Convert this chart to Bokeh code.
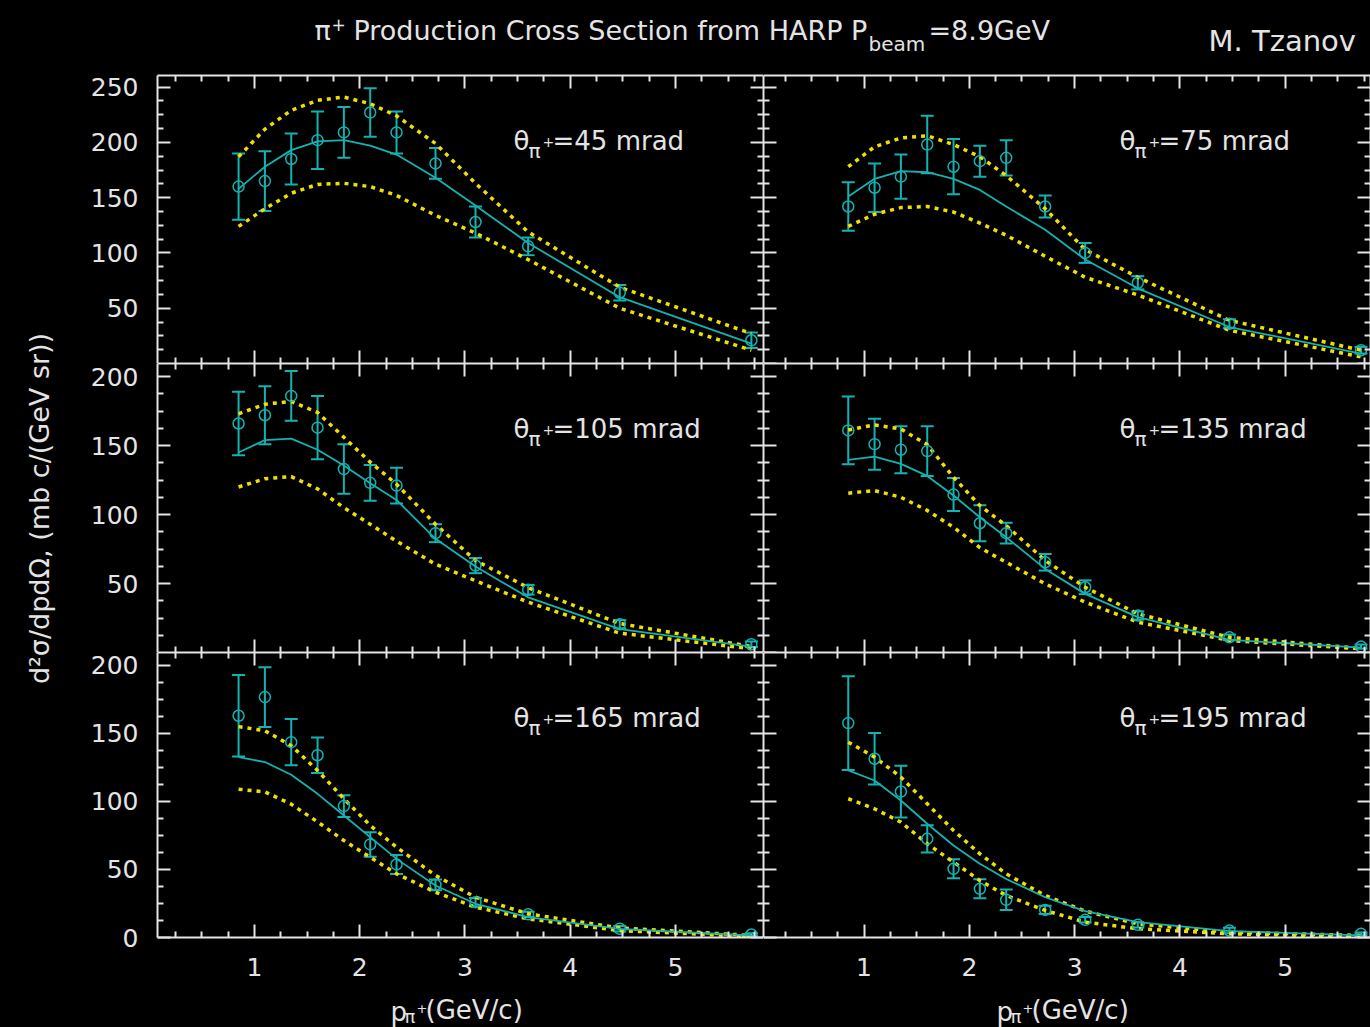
import math
from bokeh.plotting import figure
from bokeh.models import Range1d, LinearAxis, FixedTicker, Whisker, TeeHead, ColumnDataSource
from bokeh.layouts import column, row
from bokeh.core.properties import value
from bokeh.embed import file_html
from bokeh.resources import INLINE

# ---------------- data ----------------
P_GEV = [0.85, 1.10, 1.35, 1.60, 1.85, 2.10, 2.35, 2.72, 3.10, 3.60, 4.47, 5.72]
ANGLES = ["45", "75", "105", "135", "165", "195"]

DATA_45 = [160, 165, 185, 202, 209, 227, 209, 181, 128, 106, 64, 21]
ERR_45 = [30, 27, 23, 26, 23, 22, 19, 14, 14, 8, 7, 7]
MODEL_45 = [158, 178, 193, 201, 202, 197, 189, 168, 143, 109, 60, 18]
UPPER_45 = [187, 212, 229, 238, 241, 235, 224, 199, 163, 119, 69, 27]
LOWER_45 = [124, 140, 154, 162, 163, 160, 152, 134, 118, 94, 50, 12]

DATA_75 = [142, 159, 169, 198, 178, 183, 186, 142, 100, 73, 36, 12]
ERR_75 = [22, 22, 20, 26, 25, 14, 16, 10, 9, 6, 4, 3]
MODEL_75 = [151, 167, 174, 173, 167, 157, 142, 121, 94, 68, 33, 9]
UPPER_75 = [178, 196, 204, 206, 198, 187, 170, 140, 103, 78, 39, 12]
LOWER_75 = [124, 135, 141, 142, 137, 127, 116, 97, 78, 62, 30, 6]

DATA_105 = [166, 172, 186, 163, 133, 123, 121, 86.5, 63, 45.5, 20.5, 6]
ERR_105 = [23, 21, 18, 23, 18, 13, 13, 6.5, 5.5, 3.5, 3, 2]
MODEL_105 = [145, 154, 155, 147, 135.5, 122.7, 110.6, 82.4, 62.3, 40, 17, 4.3]
UPPER_105 = [173, 180, 182, 174, 156, 138, 122, 93, 66.7, 47, 21, 4.3]
LOWER_105 = [120, 126, 127.5, 118.6, 105, 93, 80.7, 64, 52, 36.5, 14, 2.7]

DATA_135 = [161, 151, 147, 146, 114.5, 93.7, 86.5, 65.4, 47.3, 26.8, 11, 4.3]
ERR_135 = [24.5, 18.5, 17, 18, 12, 13, 7.5, 6, 5, 3, 2, 1.5]
MODEL_135 = [139.6, 142, 136.7, 128, 113.8, 98, 83.6, 60.6, 42.5, 25.6, 9.2, 3.5]
UPPER_135 = [161.3, 165, 162, 150.7, 127, 106.5, 92, 66.7, 47.3, 28, 11, 3]
LOWER_135 = [115.5, 117.4, 112.5, 103, 90.8, 76, 65.4, 49.8, 36.5, 22, 8.7, 2.7]

DATA_165 = [163, 176.7, 143.6, 134, 96.6, 68.4, 53.7, 38.7, 26, 17, 6.4, 2.2]
ERR_165 = [30, 22, 17, 13, 8, 9, 7, 4, 3, 2, 2, 1]
MODEL_165 = [132.6, 129, 119.6, 105.6, 89.7, 73.8, 57.8, 38.2, 24.8, 15, 6.4, 1.5]
UPPER_165 = [155, 152, 141, 122.8, 102, 82.4, 66.4, 45.6, 29.6, 17.4, 7, 1.5]
LOWER_165 = [109, 107, 98, 85, 71.3, 59, 46.8, 33.3, 22.3, 13.7, 5.1, 0.7]

DATA_195 = [157.6, 131.4, 107.3, 72.5, 50.5, 35.8, 27.7, 20.3, 13, 9.3, 5.1, 2.7]
ERR_195 = [34.5, 19, 19, 10, 7, 7, 7.5, 3, 2, 2, 2, 1]
MODEL_195 = [122.8, 115.4, 100.7, 83.6, 67.6, 54.2, 43, 29.6, 19.4, 11.3, 4.7, 1.5]
UPPER_195 = [143.6, 132.6, 117.9, 98.3, 78.7, 61.5, 46.8, 30.9, 19.4, 10, 3.9, 1.5]
LOWER_195 = [102, 94.6, 84.8, 68.9, 55.4, 41.9, 30.9, 19.9, 11.3, 6.4, 2.7, 0.7]

SERIES = {
    "45": (DATA_45, ERR_45, MODEL_45, UPPER_45, LOWER_45),
    "75": (DATA_75, ERR_75, MODEL_75, UPPER_75, LOWER_75),
    "105": (DATA_105, ERR_105, MODEL_105, UPPER_105, LOWER_105),
    "135": (DATA_135, ERR_135, MODEL_135, UPPER_135, LOWER_135),
    "165": (DATA_165, ERR_165, MODEL_165, UPPER_165, LOWER_165),
    "195": (DATA_195, ERR_195, MODEL_195, UPPER_195, LOWER_195),
}

# tick labels
X_TICKS = [1, 2, 3, 4, 5]
Y_TICKS = [[50, 100, 150, 200, 250], [50, 100, 150, 200], [0, 50, 100, 150, 200]]

TITLE_MAIN = "Production Cross Section from HARP P"
YLABEL = "d²σ/dpdΩ, (mb c/(GeV sr))"
AUTHOR = "M. Tzanov"

# ---------------- style / layout ----------------
FONT = "DejaVu Sans"
WHITE = "#e4e4e4"
CYAN = "#14b2b2"
YELLOW = "#f0e000"
BG = "#000000"

TITLE_H = 56
TOP_B = 19           # title strip + top border = 75 px above the top frames
YSTRIP_W = 60
LEFT_B = 97          # room for the y tick labels (frame starts at page x = 157)
FW = 606
FH = [288, 289, 285]
YMAX = [260.5, 209.5, 209.5]
XR = [(0.08, 5.835), (0.045, 5.81)]
BOT_B = 50

X_MAJ_ALL = [0, 1, 2, 3, 4, 5, 6]
X_MIN_ALL = [i * 0.25 for i in range(0, 25) if i % 4]
Y_MAJ_ALL = [i * 50 for i in range(0, 6)]
Y_MIN_ALL = [i * 12.5 for i in range(0, 22) if i % 4]


def style(p):
    p.background_fill_color = BG
    p.border_fill_color = BG
    p.outline_line_color = None
    p.xgrid.visible = False
    p.ygrid.visible = False


def base_axis(ticker):
    ax = LinearAxis(ticker=ticker)
    for nm in ("axis_line", "major_tick_line", "minor_tick_line"):
        setattr(ax, nm + "_color", WHITE)
        setattr(ax, nm + "_width", 2)
    ax.major_tick_in = 13
    ax.major_tick_out = 0
    ax.minor_tick_in = 6
    ax.minor_tick_out = 0
    ax.major_label_standoff = 0
    return ax


def add_side(p, side, majors, minors, labels=None, standoff=0):
    if labels is not None:
        ax = base_axis(FixedTicker(ticks=labels, minor_ticks=minors))
        ax.major_label_text_font = FONT
        ax.major_label_text_font_size = "25px"
        ax.major_label_text_color = WHITE
        ax.major_label_standoff = standoff
        p.add_layout(ax, side)
    else:
        a1 = base_axis(FixedTicker(ticks=[], minor_ticks=majors))
        a1.minor_tick_in = 13
        a2 = base_axis(FixedTicker(ticks=[], minor_ticks=minors))
        a2.axis_line_color = None
        p.add_layout(a1, side)
        p.add_layout(a2, side)


def put_text(p, x, y, s, size, angle=0.0, align="left"):
    p.text(x=[x], y=[y], text=[s], text_font=value(FONT), text_font_size=value(f"{size}px"),
           text_color=WHITE, text_align=align, text_baseline="middle", angle=angle)


def blank_fig(w, h, xr, yr):
    f = figure(width=w, height=h, x_range=xr, y_range=yr, output_backend="svg",
               toolbar_location=None, x_axis_location=None, y_axis_location=None, min_border=0)
    style(f)
    return f


# ---------------- title strip (page coordinates) ----------------
tfig = blank_fig(1370, TITLE_H, Range1d(0, 1370), Range1d(TITLE_H, 0))
put_text(tfig, 314, 30, "π", 27)
put_text(tfig, 331, 24, "+", 17)
put_text(tfig, 353, 30, TITLE_MAIN, 27)
put_text(tfig, 868, 43, "beam", 20)
put_text(tfig, 928, 30, "=8.9GeV", 27)
put_text(tfig, 1208, 40, AUTHOR, 29)

# ---------------- y label strip ----------------
YS_H = TOP_B + sum(FH) + BOT_B
yfig = blank_fig(YSTRIP_W, YS_H, Range1d(0, YSTRIP_W), Range1d(TITLE_H + YS_H, TITLE_H))
put_text(yfig, 39, 508, YLABEL, 27, angle=math.pi / 2, align="center")

# ---------------- panels ----------------
rows = []
for r in range(3):
    figs = []
    for c in range(2):
        ang = ANGLES[2 * r + c]
        data, err, model, upper, lower = SERIES[ang]
        w = LEFT_B + FW if c == 0 else FW + 1
        h = FH[r] + (BOT_B if r == 2 else 0) + (TOP_B if r == 0 else 0)
        xr = Range1d(*XR[c])
        yr = Range1d(0, YMAX[r])
        p = figure(width=w, height=h, x_range=xr, y_range=yr, output_backend="svg",
                   toolbar_location=None, x_axis_location=None, y_axis_location=None,
                   min_border=0)
        p.min_border_left = LEFT_B if c == 0 else 0
        p.min_border_right = 0
        p.min_border_top = TOP_B if r == 0 else 0
        p.min_border_bottom = BOT_B if r == 2 else 0
        style(p)

        # axes on all four sides, ticks pointing inward
        add_side(p, "below", X_MAJ_ALL, X_MIN_ALL, X_TICKS if r == 2 else None, 20)
        add_side(p, "above", X_MAJ_ALL, X_MIN_ALL)
        add_side(p, "left", Y_MAJ_ALL, Y_MIN_ALL, Y_TICKS[r] if c == 0 else None, 19)
        add_side(p, "right", Y_MAJ_ALL, Y_MIN_ALL)

        # curves
        p.line(P_GEV, upper, line_color=YELLOW, line_width=3.5, line_dash="4 5")
        p.line(P_GEV, lower, line_color=YELLOW, line_width=3.5, line_dash="4 5")
        p.line(P_GEV, model, line_color=CYAN, line_width=1.8)

        src = ColumnDataSource(dict(x=P_GEV, y=data,
                                    lo=[d - e for d, e in zip(data, err)],
                                    hi=[d + e for d, e in zip(data, err)]))
        wh = Whisker(source=src, base="x", lower="lo", upper="hi", line_color=CYAN, line_width=2,
                     upper_head=TeeHead(size=13, line_color=CYAN, line_width=2),
                     lower_head=TeeHead(size=13, line_color=CYAN, line_width=2))
        p.add_layout(wh)
        p.scatter("x", "y", source=src, marker="circle", size=11, fill_color=None,
                  line_color=CYAN, line_width=1.5)

        # panel label  θ_{π+}=NN mrad  (offsets in px from the frame's top-left corner)
        fw = FW if c == 0 else FW + 1

        def d(dx, dy, xr=xr, yr=yr, fh=FH[r], fw=fw):
            return (xr.start + dx * (xr.end - xr.start) / fw,
                    yr.end - dy * (yr.end - yr.start) / fh)
        put_text(p, *d(356, 65), "θ", 26)
        put_text(p, *d(371, 75), "π", 20)
        put_text(p, *d(385, 66), "+", 14)
        put_text(p, *d(395, 65), f"={ang} mrad", 26)
        figs.append(p)
    rows.append(row(*figs))

panels = row(yfig, column(*rows))

# ---------------- x-axis label strips (page coordinates) ----------------
strips = []
for c in range(2):
    x0 = 0 if c == 0 else YSTRIP_W + LEFT_B + FW
    w = YSTRIP_W + LEFT_B + FW if c == 0 else FW + 1
    s = blank_fig(w, 40, Range1d(x0, x0 + w), Range1d(1027, 987))
    fx = 157 if c == 0 else 763
    put_text(s, fx + 233, 1011, "p", 26)
    put_text(s, fx + 247, 1016, "π", 18)
    put_text(s, fx + 259, 1008, "+", 13)
    put_text(s, fx + 268, 1009, "(GeV/c)", 26)
    strips.append(s)

layout = column(tfig, panels, row(*strips))

TEMPLATE = """{% block preamble %}<style>html, body { background-color: #000000; margin: 0; padding: 0; }</style>{% endblock %}"""
open("out.html", "w").write(file_html(layout, INLINE, template=TEMPLATE))
